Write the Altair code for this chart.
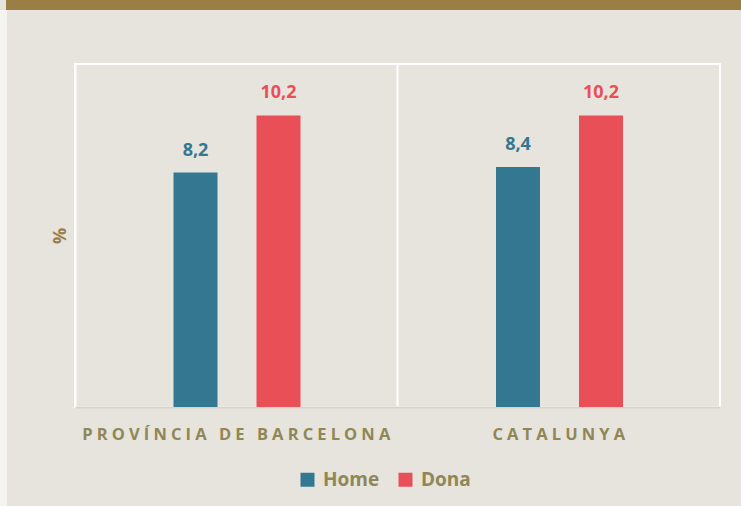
import altair as alt
import pandas as pd

regions = ["PROVÍNCIA DE BARCELONA", "CATALUNYA"]
series = ["Home", "Dona"]
home_vals = [8.2, 8.4]
dona_vals = [10.2, 10.2]

G = "\u2005"  # letter gap
def spaced(s):
    return (G * 3).join(G.join(list(w)) for w in s.split(" "))

rows = []
for i, r in enumerate(regions):
    rows.append({"region": spaced(r), "sexe": "Home", "valor": home_vals[i]})
    rows.append({"region": spaced(r), "sexe": "Dona", "valor": dona_vals[i]})
df = pd.DataFrame(rows)
region_order = [spaced(r) for r in regions]

OLIVE = "#8F8755"
BROWN = "#9B7E45"
FONT = "Open Sans"

color = alt.Color(
    "sexe:N",
    scale=alt.Scale(domain=series, range=["#337890", "#E94F57"]),
    legend=alt.Legend(
        title=None, orient="none", direction="horizontal",
        legendX=223, legendY=406,
        symbolType="square", symbolSize=196, symbolStrokeWidth=0,
        labelFont=FONT, labelFontSize=19, labelFontWeight="bold",
        labelColor=OLIVE, columnPadding=16, labelOffset=6,
    ),
)

x = alt.X(
    "region:N", sort=region_order, title=None,
    scale=alt.Scale(paddingInner=0, paddingOuter=0),
    axis=alt.Axis(
        labelAngle=0, ticks=False, labelPadding=19, labelLimit=0,
        labelFont=FONT, labelFontSize=16.5, labelFontWeight="bold",
        labelColor=OLIVE, domainColor="#D6D3CE", domainWidth=2,
        grid=True, gridColor="white", gridWidth=2, bandPosition=0,
    ),
)
xoff = alt.XOffset("sexe:N", sort=series,
                   scale=alt.Scale(range=[98.5, 225.5], paddingInner=0.47,
                                   paddingOuter=0))
y = alt.Y(
    "valor:Q", scale=alt.Scale(domain=[0, 12], nice=False),
    axis=alt.Axis(
        title="%", labels=False, ticks=False, domain=False, grid=False,
        titleFont=FONT, titleFontSize=18, titleFontWeight="bold",
        titleColor=BROWN, titlePadding=6,
    ),
)

bars = alt.Chart(df).mark_bar().encode(x=x, xOffset=xoff, y=y, color=color)

labels = alt.Chart(df).transform_calculate(
    lbl="replace(format(datum.valor, '.1f'), '.', ',')"
).mark_text(
    font=FONT, fontSize=18, fontWeight="bold", baseline="bottom", dy=-13
).encode(x=x, xOffset=xoff, y=y, text="lbl:N", color=color)

deco_df = pd.DataFrame({"k": [0]})
top_bar = alt.Chart(deco_df).mark_rect(color=BROWN).encode(
    x=alt.value(-69), x2=alt.value(666), y=alt.value(-64), y2=alt.value(-54)
)
left_strip = alt.Chart(deco_df).mark_rect(color="#F6F4F1").encode(
    x=alt.value(-75), x2=alt.value(-68), y=alt.value(-54), y2=alt.value(442)
)

chart = alt.layer(left_strip, top_bar, bars, labels).properties(
    width=645, height=343,
    autosize=alt.AutoSizeParams(type="none"),
    padding={"left": 75, "top": 64, "right": 21, "bottom": 99},
    background="#E7E3DD",
).configure_view(stroke="white", strokeWidth=2, fill=None)

chart.save("out.html", embed_options={"renderer": "svg", "actions": False})
